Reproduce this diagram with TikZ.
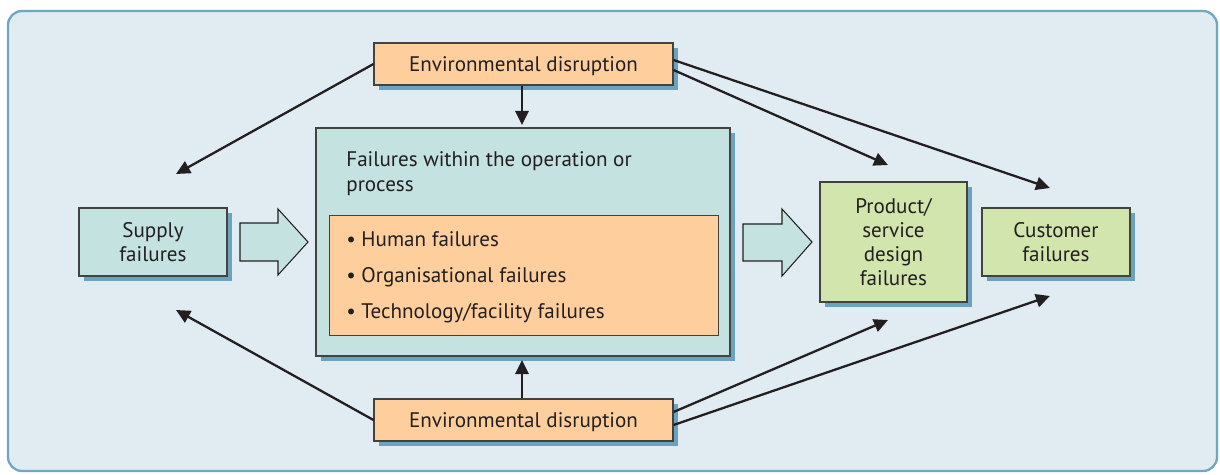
\documentclass[tikz,border=0pt]{standalone}
\usepackage{fontspec}
\setmainfont{PT Sans}
\usetikzlibrary{arrows.meta,shadows,calc}
\definecolor{panelfill}{HTML}{E1ECF2}
\definecolor{paneldraw}{HTML}{6EA7C0}
\definecolor{shadowc}{HTML}{6AA3BE}
\definecolor{orangec}{HTML}{FECF9C}
\definecolor{tealc}{HTML}{C4E2E0}
\definecolor{greenc}{HTML}{D2E5AD}
\definecolor{linec}{HTML}{231F20}
\def\u{0.02cm}
\begin{document}
\begin{tikzpicture}[x=0.02cm,y=-0.02cm,
  boxbase/.style={draw=linec!85, line width=0.6pt, inner sep=0pt, align=center,
    text=linec, font=\fontsize{12}{13.6}\selectfont,
    drop shadow={shadow xshift=5*\u, shadow yshift=-5*\u, fill=shadowc, opacity=1}},
  envbox/.style={boxbase, fill=orangec, text height=8.6pt, text depth=-1.2pt},
  tealbox/.style={boxbase, fill=tealc},
  greenbox/.style={boxbase, fill=greenc},
  conn/.style={draw=linec, line width=1.3pt, -{Triangle[length=8pt,width=7.5pt]}},
  blockarrow/.style={draw=linec, line width=0.6pt, fill=tealc},
  plain/.style={inner sep=0pt, text=linec, align=left}
]
\useasboundingbox (0,0) rectangle (1220,474);
\draw[fill=panelfill, draw=paneldraw, line width=1.3pt, rounded corners=14*\u] (8,11) rectangle (1217,471);

% nodes
\node[envbox, minimum width=299*\u, minimum height=42*\u] (topenv) at (523.5,64) {Environmental disruption};
\node[envbox, minimum width=299*\u, minimum height=42*\u] (botenv) at (523.5,420) {Environmental disruption};
\node[tealbox, minimum width=414*\u, minimum height=228*\u] (main) at (523,242) {};
\node[plain, anchor=north west, font=\fontsize{12}{14.2}\selectfont] (title) at (346,151) {Failures within the operation or\\process};
\node[draw=linec!85, line width=0.6pt, fill=orangec, text=linec, anchor=north west,
  minimum width=389*\u, minimum height=120*\u, inner sep=0pt] (inner) at (329,215) {};
\node[plain, anchor=west, font=\fontsize{12}{20.4}\selectfont] (list) at (346,277)
  {\textbullet\ Human failures\\ \textbullet\ Organisational failures\\ \textbullet\ Technology/facility failures};
\node[tealbox, minimum width=148*\u, minimum height=68*\u] (supply) at (153,242) {Supply\\failures};
\node[greenbox, minimum width=147*\u, minimum height=120*\u] (product) at (893.5,242) {Product/\\service\\design\\failures};
\node[greenbox, minimum width=148*\u, minimum height=68*\u] (customer) at (1056,242) {Customer\\failures};

% block arrows
\draw[blockarrow] (240,223) -- (278,223) -- (278,209) -- (308,242) -- (278,275) -- (278,261) -- (240,261) -- cycle;
\draw[blockarrow] (743,224) -- (782,224) -- (782,209) -- (812,242) -- (782,276) -- (782,261) -- (743,261) -- cycle;

% connector end coordinates
\coordinate (tl) at (176,174);
\coordinate (tp) at (888,165);
\coordinate (tc) at (1050,188);
\coordinate (bl) at (176,310);
\coordinate (bp) at (888,320);
\coordinate (bc) at (1050,296);
\coordinate (tm) at (522,125);
\coordinate (bm) at (522,360);

\draw[conn] (topenv.west) -- (tl);
\draw[conn] ($(topenv.east)+(0,-4)$) -- (tc);
\draw[conn] ($(topenv.east)+(0,6)$) -- (tp);
\draw[conn] (topenv.south -| tm) -- (tm);
\draw[conn] (botenv.west) -- (bl);
\draw[conn] ($(botenv.east)+(0,-8)$) -- (bp);
\draw[conn] ($(botenv.east)+(0,5)$) -- (bc);
\draw[conn] (botenv.north -| bm) -- (bm);
\end{tikzpicture}
\end{document}
